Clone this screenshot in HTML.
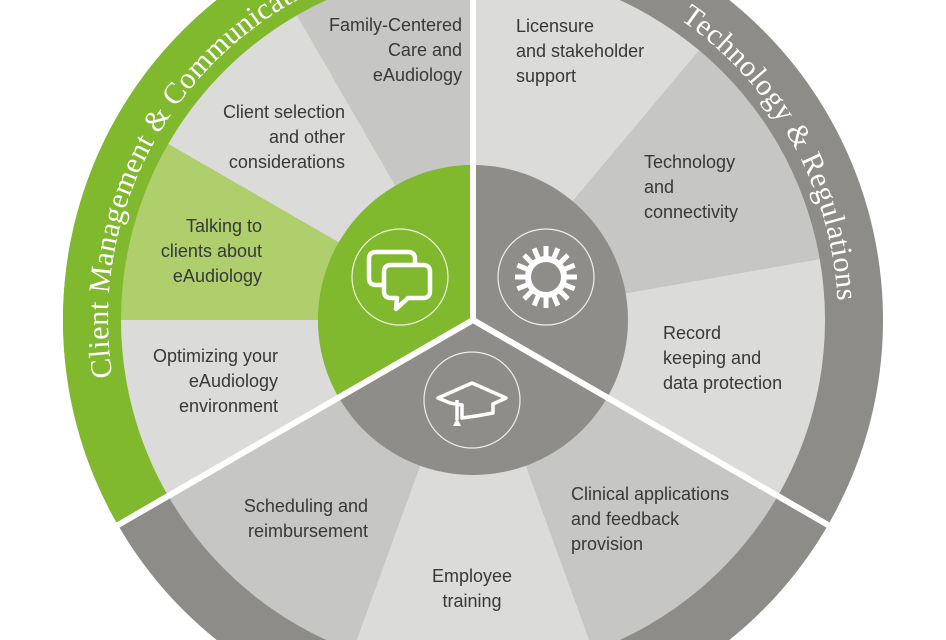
<!DOCTYPE html>
<html><head><meta charset="utf-8"><style>
html,body{margin:0;padding:0;background:#fff;width:946px;height:640px;overflow:hidden}
svg{display:block;overflow:hidden}
.t{font-family:"Liberation Sans",sans-serif;font-size:18px;fill:#383838}
.r{font-family:"Liberation Serif",serif;font-size:30px;fill:#fff}
</style></head><body>
<svg width="946" height="640" viewBox="0 0 946 640" xmlns="http://www.w3.org/2000/svg">
<defs>
<path id="lp" d="M130,444.8 A365,365 0 0 1 655.5,3.9"/>
<path id="rp" d="M655.5,3.9 A365,365 0 0 1 832.5,383.4"/>
</defs>
<circle cx="473" cy="320" r="410" fill="#8d8c88"/>
<path d="M473,320 L473,-90 A410,410 0 0 0 117.9,525 Z" fill="#80b82e"/>
<path d="M473,320 L473,-32 A352,352 0 0 0 297,15.2 Z" fill="#c6c6c4"/>
<path d="M473,320 L297,15.2 A352,352 0 0 0 168.2,144 Z" fill="#dbdbda"/>
<path d="M473,320 L168.2,144 A352,352 0 0 0 121,320 Z" fill="#afcf6d"/>
<path d="M473,320 L121,320 A352,352 0 0 0 168.2,496 Z" fill="#dbdbda"/>
<path d="M473,320 L168.2,496 A352,352 0 0 0 352.6,650.8 Z" fill="#c6c6c4"/>
<path d="M473,320 L352.6,650.8 A352,352 0 0 0 593.4,650.8 Z" fill="#dbdbda"/>
<path d="M473,320 L593.4,650.8 A352,352 0 0 0 777.8,496 Z" fill="#c6c6c4"/>
<path d="M473,320 L777.8,496 A352,352 0 0 0 819.7,258.9 Z" fill="#dbdbda"/>
<path d="M473,320 L819.7,258.9 A352,352 0 0 0 699.3,50.4 Z" fill="#c6c6c4"/>
<path d="M473,320 L699.3,50.4 A352,352 0 0 0 473,-32 Z" fill="#dbdbda"/>
<circle cx="473" cy="320" r="155" fill="#8e8d89"/>
<path d="M473,320 L473,165 A155,155 0 0 0 338.8,397.5 Z" fill="#80b82e"/>
<g stroke="#fff" stroke-width="6">
<line x1="473" y1="320" x2="473" y2="-100"/>
<line x1="473" y1="320" x2="109.3" y2="530"/>
<line x1="473" y1="320" x2="836.7" y2="530"/>
</g>
<g fill="none" stroke="#fff" stroke-width="1.2" opacity="0.85">
<circle cx="400" cy="277" r="48"/>
<circle cx="546" cy="277" r="48"/>
<circle cx="472" cy="400" r="48"/>
</g>
<g fill="none" stroke="#fff" stroke-width="4.5" stroke-linejoin="round">
<path d="M383,285 L376,285 Q369,285 369,278 L369,259 Q369,252 376,252 L408,252 Q415,252 415,259 L415,265"/>
<path d="M391,265 L423,265 Q430,265 430,272 L430,291 Q430,298 423,298 L408,298 L396,309 L397,298 L391,298 Q384,298 384,291 L384,272 Q384,265 391,265 Z"/>
</g>
<g transform="translate(546,277)">
<circle r="18" fill="none" stroke="#fff" stroke-width="6"/>
<g fill="#fff">
<rect x="-2.5" y="-31" width="5" height="12"/>
<rect x="-2.5" y="-31" width="5" height="12" transform="rotate(22.5)"/>
<rect x="-2.5" y="-31" width="5" height="12" transform="rotate(45)"/>
<rect x="-2.5" y="-31" width="5" height="12" transform="rotate(67.5)"/>
<rect x="-2.5" y="-31" width="5" height="12" transform="rotate(90)"/>
<rect x="-2.5" y="-31" width="5" height="12" transform="rotate(112.5)"/>
<rect x="-2.5" y="-31" width="5" height="12" transform="rotate(135)"/>
<rect x="-2.5" y="-31" width="5" height="12" transform="rotate(157.5)"/>
<rect x="-2.5" y="-31" width="5" height="12" transform="rotate(180)"/>
<rect x="-2.5" y="-31" width="5" height="12" transform="rotate(202.5)"/>
<rect x="-2.5" y="-31" width="5" height="12" transform="rotate(225)"/>
<rect x="-2.5" y="-31" width="5" height="12" transform="rotate(247.5)"/>
<rect x="-2.5" y="-31" width="5" height="12" transform="rotate(270)"/>
<rect x="-2.5" y="-31" width="5" height="12" transform="rotate(292.5)"/>
<rect x="-2.5" y="-31" width="5" height="12" transform="rotate(315)"/>
<rect x="-2.5" y="-31" width="5" height="12" transform="rotate(337.5)"/>
</g></g>
<g fill="none" stroke="#fff" stroke-width="3.5" stroke-linejoin="round">
<path d="M438,398 L472,383 L506,398 L493,404 L493,413 Q478,416 462,418 L462,405 L450,403 Z"/>
<line x1="457" y1="400" x2="457" y2="420"/>
</g>
<path d="M457,418 L461,426 L453,426 Z" fill="#fff"/>
<text class="r"><textPath href="#lp" startOffset="70" textLength="482" lengthAdjust="spacing">Client Management &amp; Communication</textPath></text>
<text class="r"><textPath href="#rp" startOffset="29" textLength="334" lengthAdjust="spacing">Technology &amp; Regulations</textPath></text>
<g class="t">
<text text-anchor="end"><tspan x="462" y="31">Family-Centered</tspan><tspan x="462" y="56">Care and</tspan><tspan x="462" y="81">eAudiology</tspan></text>
<text text-anchor="end"><tspan x="345" y="118">Client selection</tspan><tspan x="345" y="143">and other</tspan><tspan x="345" y="168">considerations</tspan></text>
<text text-anchor="end"><tspan x="262" y="232">Talking to</tspan><tspan x="262" y="257">clients about</tspan><tspan x="262" y="282">eAudiology</tspan></text>
<text text-anchor="end"><tspan x="278" y="362">Optimizing your</tspan><tspan x="278" y="387">eAudiology</tspan><tspan x="278" y="412">environment</tspan></text>
<text text-anchor="end"><tspan x="368" y="512">Scheduling and</tspan><tspan x="368" y="537">reimbursement</tspan></text>
<text text-anchor="middle"><tspan x="472" y="582">Employee</tspan><tspan x="472" y="607">training</tspan></text>
<text><tspan x="571" y="500">Clinical applications</tspan><tspan x="571" y="525">and feedback</tspan><tspan x="571" y="550">provision</tspan></text>
<text><tspan x="663" y="339">Record</tspan><tspan x="663" y="364">keeping and</tspan><tspan x="663" y="389">data protection</tspan></text>
<text><tspan x="644" y="168">Technology</tspan><tspan x="644" y="193">and</tspan><tspan x="644" y="218">connectivity</tspan></text>
<text><tspan x="516" y="32">Licensure</tspan><tspan x="516" y="57">and stakeholder</tspan><tspan x="516" y="82">support</tspan></text>
</g>
</svg>
</body></html>
